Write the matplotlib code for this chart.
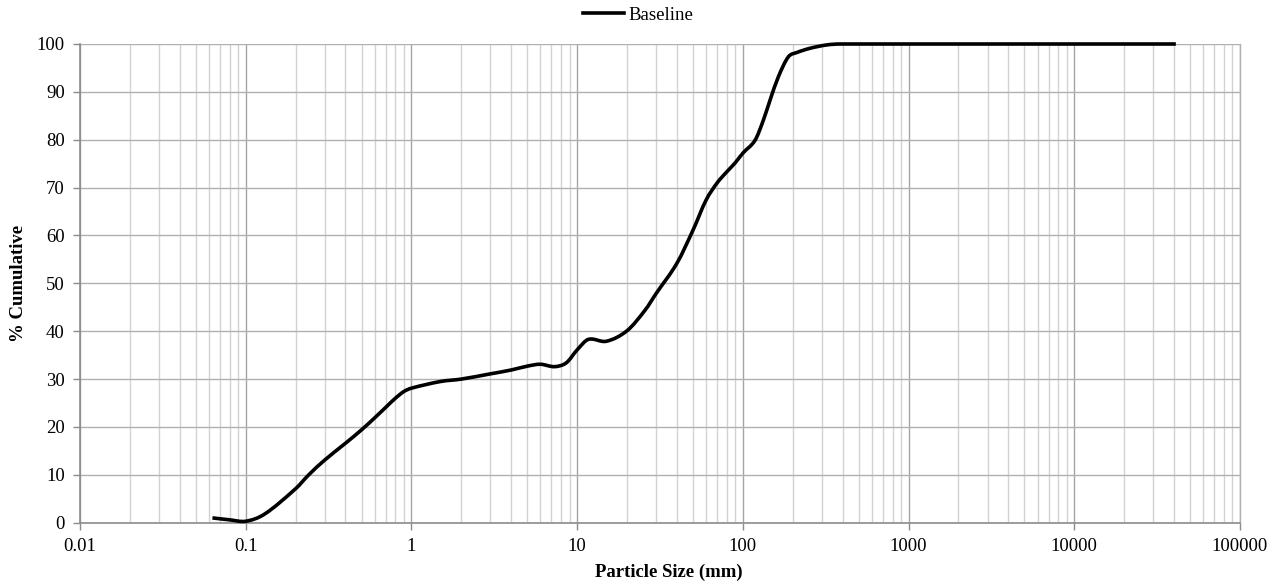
import numpy as np
import matplotlib
matplotlib.use("Agg")
import matplotlib.pyplot as plt
from matplotlib.path import Path
from matplotlib.patches import PathPatch
from matplotlib.lines import Line2D
from matplotlib.ticker import LogLocator, FixedLocator, NullFormatter, FuncFormatter

plt.rcParams['font.family'] = ['Liberation Serif', 'DejaVu Serif']

# Grading curve: particle size (mm) vs cumulative percent passing
size_mm = [0.063, 0.08, 0.1, 0.13, 0.2, 0.24, 0.3, 0.4, 0.5, 0.6, 0.7,
           0.8, 0.9, 1.0, 1.5, 2.0, 3.0, 4.0, 5.0, 6.0, 7.3, 8.6, 10.0, 11.7,
           15.0, 20.0, 25.7, 30.0, 40.0, 50.0, 60.0, 70.0, 80.0, 90.0, 100.0,
           118.5, 133.0, 146.0, 164.0, 188.0, 211.0, 254.0, 320.0, 390.0,
           41000.0]
cumulative = [1.0, 0.6, 0.3, 1.8, 7.1, 10.0, 13.1, 16.6, 19.4, 21.9, 24.1,
              26.0, 27.4, 28.1, 29.5, 30.0, 31.1, 31.9, 32.7, 33.1, 32.6, 33.4,
              36.1, 38.3, 37.9, 40.1, 44.4, 47.9, 54.2, 61.1, 67.4, 71.0, 73.3,
              75.2, 77.2, 79.9, 84.1, 88.3, 93.2, 97.3, 98.2, 99.1, 99.8, 100.0,
              100.0]
series_name = "Baseline"

x_ticks = [0.01, 0.1, 1, 10, 100, 1000, 10000, 100000]
y_ticks = list(range(0, 101, 10))


def smooth_path(xs, ys):
    """Cubic Bezier path through the points, built in log10(x) space."""
    lx = np.log10(np.asarray(xs, float))
    y = np.asarray(ys, float)
    n = len(lx)
    m = np.zeros(n)
    for i in range(n):
        if i == 0:
            m[i] = (y[1] - y[0]) / (lx[1] - lx[0])
        elif i == n - 1:
            m[i] = (y[-1] - y[-2]) / (lx[-1] - lx[-2])
        else:
            m[i] = (y[i + 1] - y[i - 1]) / (lx[i + 1] - lx[i - 1])
    if y[-1] == y[-2]:
        m[-2] = 0.0
        m[-1] = 0.0
    verts = [(lx[0], y[0])]
    codes = [Path.MOVETO]
    for i in range(n - 1):
        h = lx[i + 1] - lx[i]
        c1 = (lx[i] + h / 3, y[i] + m[i] * h / 3)
        c2 = (lx[i + 1] - h / 3, y[i + 1] - m[i + 1] * h / 3)
        verts += [c1, c2, (lx[i + 1], y[i + 1])]
        codes += [Path.CURVE4] * 3
    verts = [(10 ** vx, vy) for vx, vy in verts]
    return Path(verts, codes)


fig = plt.figure(figsize=(12.81, 5.86), dpi=100)
ax = fig.add_axes([80 / 1281, 1 - 522.7 / 586, 1160 / 1281, (522.7 - 44) / 586])

ax.set_xscale('log')
ax.set_xlim(0.01, 100000)
ax.set_ylim(0, 100)

# grid lines
ax.xaxis.set_major_locator(FixedLocator(x_ticks))
ax.xaxis.set_minor_locator(LogLocator(base=10, subs=np.arange(2, 10), numticks=100))
ax.xaxis.set_minor_formatter(NullFormatter())
ax.xaxis.set_major_formatter(FuncFormatter(lambda v, p: f"{v:g}" if v < 1 else f"{int(v)}"))
ax.yaxis.set_major_locator(FixedLocator(y_ticks))

ax.grid(which='major', axis='x', color='#a4a4a4', linewidth=1.0)
ax.grid(which='minor', axis='x', color='#d2d2d2', linewidth=1.0)
ax.grid(which='major', axis='y', color='#b0b0b0', linewidth=1.0)
ax.set_axisbelow(True)

for side in ['left', 'bottom']:
    ax.spines[side].set_color('#8c8c8c')
    ax.spines[side].set_linewidth(1.2)
ax.spines['right'].set_color('#b0b0b0')
ax.spines['right'].set_linewidth(1.0)
ax.spines['top'].set_visible(False)

ax.tick_params(axis='both', which='major', labelsize=13.5, color='#8c8c8c',
               length=5, width=1.0, direction='out')
ax.tick_params(axis='x', which='minor', length=0)
ax.tick_params(axis='x', which='major', pad=6)
ax.tick_params(axis='y', which='major', pad=6)

patch = PathPatch(smooth_path(size_mm, cumulative), facecolor='none',
                  edgecolor='black', linewidth=2.6, clip_on=False,
                  capstyle='butt', joinstyle='round', zorder=3)
ax.add_patch(patch)

ax.set_xlabel('Particle Size (mm)', fontsize=13.5, fontweight='bold')
ax.xaxis.set_label_coords((669 - 80) / 1160, (522.7 - 564) / (522.7 - 44))
ax.set_ylabel('% Cumulative', fontsize=13.5, fontweight='bold')
ax.yaxis.set_label_coords((27 - 80) / 1160, 0.5)

handle = Line2D([], [], color='black', linewidth=2.6)
fig.legend([handle], [series_name], loc='center left',
           bbox_to_anchor=(568 / 1281, 1 - 15 / 586),
           frameon=False, fontsize=13.5, handlelength=2.2, handletextpad=0.2,
           borderpad=0.3)

fig.savefig('out.png', dpi=100)
